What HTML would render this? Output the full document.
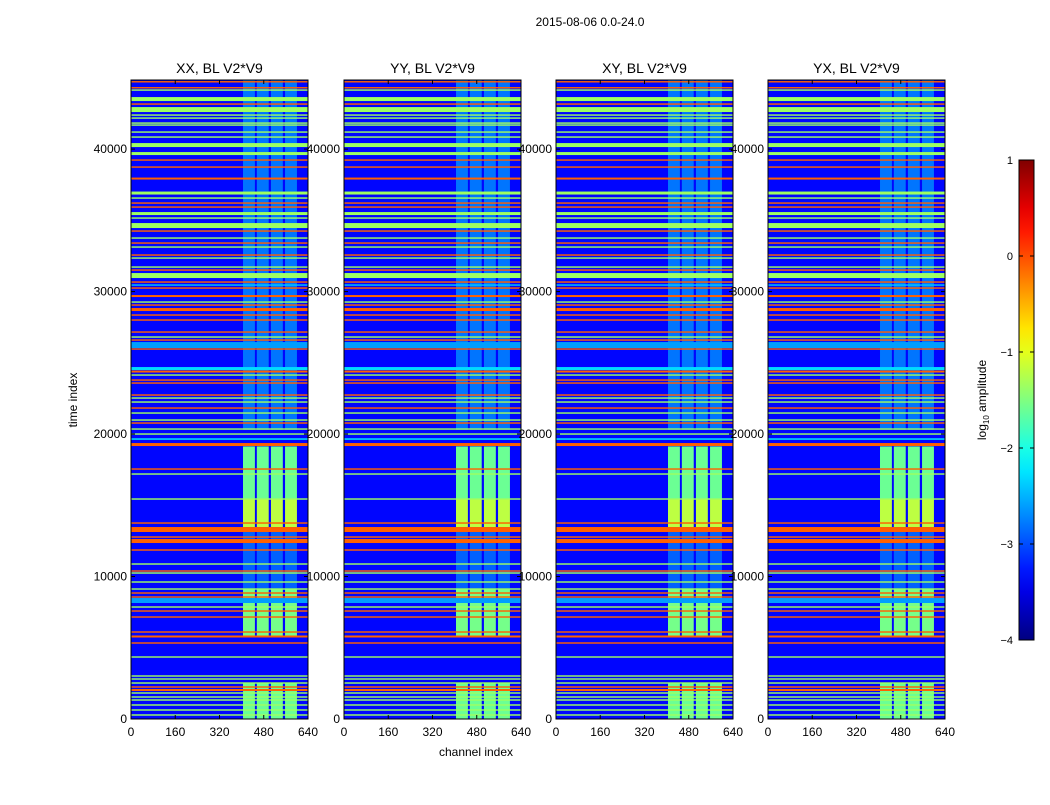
<!DOCTYPE html>
<html><head><meta charset="utf-8">
<style>
body{margin:0;background:#fff;}
svg text{font-family:"Liberation Sans",sans-serif;fill:#000;}
</style></head>
<body>
<svg id="fig" width="1050" height="800" viewBox="0 0 1050 800" xmlns="http://www.w3.org/2000/svg">
<rect width="1050" height="800" fill="#fff"/>
<text x="590" y="26" font-size="12" text-anchor="middle">2015-08-06 0.0-24.0</text>
<text x="476" y="756" font-size="12" text-anchor="middle">channel index</text>
<text transform="translate(77,400) rotate(-90)" font-size="12" text-anchor="middle">time index</text>
<g id="panels"></g>
<g id="cbar"></g>
</svg>
<script>
// ---- data ----
const panelTitles = ["XX, BL V2*V9","YY, BL V2*V9","XY, BL V2*V9","YX, BL V2*V9"];
const xTicks = [0,160,320,480,640];
const yTicks = [0,10000,20000,30000,40000];
const cbarTicks = [1,0,-1,-2,-3,-4];
const backgroundLevel = -3.35;
// horizontal flagged rows: time index, thickness (time units), log10 amplitude
const stripeTimes = [44725,44305,44143,43512,43161,42775,42389,42178,41827,41687,41196,40845,40283,39687,39231,38739,37932,36915,36564,36213,35932,35476,35160,34634,34248,33757,33406,33125,32564,32353,31721,31511,31125,30669,30458,30248,29686,29265,29055,28739,28353,28002,27160,26809,26598,26247,25967,24598,24388,24142,23791,23580,22738,22528,22247,21826,21475,20984,20773,20352,20001,19650,19264,17545,17194,15440,13755,13299,12773,12492,11860,10878,10387,10246,9615,9123,8843,8562,8316,7860,7579,7158,6106,5790,5334,4351,3018,2807,2526,2246,2035,1825,1544,1333,983,632,281];
const stripeWidths = [100,100,100,280,100,350,100,100,100,100,100,100,280,210,100,100,140,210,100,100,100,210,100,350,100,100,100,100,100,100,100,100,350,100,100,100,140,100,100,210,100,100,100,100,100,420,100,210,140,100,100,100,100,100,100,100,100,100,100,100,100,100,210,100,100,100,100,350,100,280,100,100,100,100,100,100,100,100,350,100,100,100,100,140,100,100,100,100,100,100,140,100,100,100,100,100,100];
const stripeLevels = [-0.1,-0.1,-1.35,-1.35,-0.1,-1.35,-1.35,-1.35,-1.35,-1.35,-1.35,-1.35,-1.35,-1.35,-0.1,-0.1,-0.1,-1.35,-1.35,-0.1,-0.1,-1.35,-1.35,-1.35,-0.1,-1.35,-0.1,-1.35,-0.1,-1.35,-1.35,-0.1,-1.35,-0.1,-2.4,-0.1,-0.1,-1.35,-0.1,-0.1,-0.1,-0.1,-0.1,-1.35,-0.1,-2.6,-0.1,-2.3,-0.1,-1.35,-0.1,-0.1,-0.1,-1.35,-1.35,-0.1,-1.35,-1.35,-0.1,-1.35,-1.35,-2.2,-0.1,-0.1,-1.35,-1.35,-0.1,-0.1,-0.1,-0.1,-0.1,-1.35,-0.1,-1.35,-1.35,-1.35,-0.1,-0.1,-2.6,-1.35,-0.1,-0.1,-0.1,-0.1,-0.1,-1.35,-1.35,-1.35,-1.35,-0.1,-0.1,-1.35,-1.35,-1.35,-1.35,-1.35,-1.35];
// RFI-affected channel blocks
const blockStarts = [405,455,506,557];
const blockEnds = [448,498,549,600];
const segStart = [20300,15440,13470,9100,5800,0];
const segEnd = [44850,19130,15440,13470,9100,2500];
const segLevel = [-2.8,-1.6,-1.2,-2.9,-1.55,-1.6];
const panelLeft = [131,344,556,768];
</script>
<script>
const NS="http://www.w3.org/2000/svg";
const X0=0,X1=640,T0=0,T1=44850,PW=177,PTOP=80,PBOT=719;
function jet(v){const x=Math.max(0,Math.min(1,(v+4)/5));
 const c=k=>Math.round(255*Math.max(0,Math.min(1,1.5-Math.abs(4*x-k))));
 return `rgb(${c(3)},${c(2)},${c(1)})`;}
function yOf(t){return PBOT-(t-T0)/(T1-T0)*(PBOT-PTOP);}
function mk(tag,attrs,parent){const e=document.createElementNS(NS,tag);for(const k in attrs)e.setAttribute(k,attrs[k]);parent.appendChild(e);return e;}
const panels=document.getElementById('panels');
panelLeft.forEach((L,p)=>{
 const xOf=c=>L+(c-X0)/(X1-X0)*PW;
 const g=mk('g',{},panels);
 
 
 const bg=mk('rect',{x:L,y:PTOP,width:PW,height:PBOT-PTOP,fill:jet(backgroundLevel)},g);
 
 
 segStart.forEach((s,i)=>{blockStarts.forEach((b,j)=>{
  const r=mk('rect',{x:xOf(b),y:yOf(segEnd[i]),width:xOf(blockEnds[j])-xOf(b),height:yOf(segStart[i])-yOf(segEnd[i]),fill:jet(segLevel[i])},g);
  
  
 });});
 stripeTimes.forEach((t,i)=>{
  const h=Math.max(1,stripeWidths[i]/(T1-T0)*(PBOT-PTOP));
  const r=mk('rect',{x:L,y:yOf(t)-h/2,width:PW,height:h,fill:jet(stripeLevels[i])},g);
  
  
 });
 mk('rect',{x:L,y:PTOP,width:PW,height:PBOT-PTOP,fill:'none',stroke:'#000','stroke-width':1},g);
 const tt=mk('text',{x:L+PW/2,y:PTOP-7,'font-size':14,'text-anchor':'middle'},g);
 tt.textContent=panelTitles[p];
 
 
 xTicks.forEach(v=>{const x=xOf(v);
  mk('line',{x1:x,x2:x,y1:PBOT,y2:PBOT-4,stroke:'#000'},g);
  mk('line',{x1:x,x2:x,y1:PTOP,y2:PTOP+4,stroke:'#000'},g);
  const t=mk('text',{x:x,y:PBOT+17,'font-size':12,'text-anchor':'middle'},g);t.textContent=v;
  
  });
 yTicks.forEach(v=>{const y=yOf(v);
  mk('line',{x1:L,x2:L+4,y1:y,y2:y,stroke:'#000'},g);
  mk('line',{x1:L+PW,x2:L+PW-4,y1:y,y2:y,stroke:'#000'},g);
  const t=mk('text',{x:L-4,y:y+4,'font-size':12,'text-anchor':'end'},g);t.textContent=v;
  
  });
});
// colorbar
const cb=document.getElementById('cbar');
const CX=1019,CW=15,CT=160,CB=640;
const defs=mk('defs',{},cb);
const lg=mk('linearGradient',{id:'jetg',x1:0,y1:1,x2:0,y2:0},defs);
for(let i=0;i<=20;i++){mk('stop',{offset:i/20,'stop-color':jet(-4+5*i/20)},lg);}
const cr=mk('rect',{x:CX,y:CT,width:CW,height:CB-CT,fill:'url(#jetg)',stroke:'#000'},cb);


cbarTicks.forEach(v=>{const y=CB-(v+4)/5*(CB-CT);
 mk('line',{x1:CX,x2:CX+4,y1:y,y2:y,stroke:'#000'},cb);
 mk('line',{x1:CX+CW,x2:CX+CW-4,y1:y,y2:y,stroke:'#000'},cb);
 const t=mk('text',{x:1013,y:y+4,'font-size':11,'text-anchor':'end'},cb);t.textContent=v<0?'\u2212'+(-v):v;
 
 });
const cl=mk('text',{transform:'translate(986,400) rotate(-90)','font-size':12,'text-anchor':'middle'},cb);
cl.innerHTML='log<tspan font-size="8" dy="3">10</tspan><tspan dy="-3"> amplitude</tspan>';


</script>
</body></html>
